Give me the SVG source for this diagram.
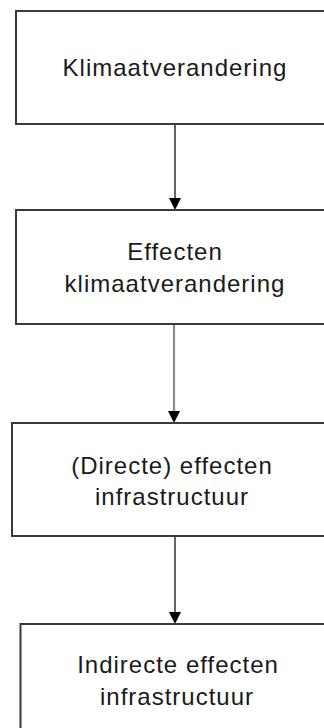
<svg xmlns="http://www.w3.org/2000/svg" width="324" height="728" viewBox="0 0 324 728">
<defs>
<style>
.box{fill:#fff;stroke:#3a3a3a;stroke-width:2}
.t{font-family:"Liberation Sans",Arial,sans-serif;font-size:24px;letter-spacing:1px;fill:#1a1a1a;text-anchor:middle}
.c{stroke:#111;stroke-width:1.3;fill:none}
.g{stroke:#8a8a8a;stroke-width:2.2;fill:none}
.ah{fill:#000}
</style>
</defs>
<rect width="324" height="728" fill="#fff"/>
<g id="connectors">
<line class="c" x1="175" y1="124" x2="175" y2="200"/>
<polygon class="ah" points="169,198 181,198 175,210"/>
<line class="g" x1="174" y1="324" x2="174" y2="413"/>
<polygon class="ah" points="168,411 180,411 174,423"/>
<line class="c" x1="175" y1="536" x2="175" y2="614"/>
<polygon class="ah" points="169,612 181,612 175,624"/>
</g>
<g id="n1">
<rect class="box" x="16" y="11" width="330" height="113"/>
<text class="t" x="175" y="76">Klimaatverandering</text>
</g>
<g id="n2">
<rect class="box" x="16" y="210" width="330" height="114"/>
<text class="t" x="175" y="260">Effecten</text>
<text class="t" x="175" y="292">klimaatverandering</text>
</g>
<g id="n3">
<rect class="box" x="12" y="423" width="334" height="113"/>
<text class="t" x="172" y="474">(Directe) effecten</text>
<text class="t" x="172" y="505">infrastructuur</text>
</g>
<g id="n4">
<rect class="box" x="20.5" y="624" width="330" height="120"/>
<text class="t" x="178" y="673">Indirecte effecten</text>
<text class="t" x="177" y="705">infrastructuur</text>
</g>
</svg>
